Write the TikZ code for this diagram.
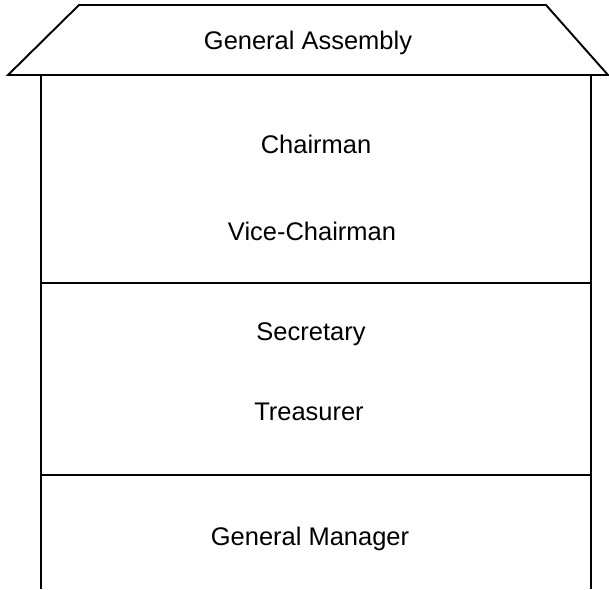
\documentclass[tikz,border=0pt]{standalone}
\usepackage{fontspec}
\setmainfont{Liberation Sans}
\usepackage{tikz}
\usetikzlibrary{calc}

\begin{document}
\begin{tikzpicture}[x=0.02cm, y=-0.02cm, line width=1.1pt,
	post/.style={anchor=base, inner sep=0pt, font=\fontsize{14.5}{17}\selectfont}]
		\useasboundingbox (0,0) rectangle (609,589);
		%Roof
		\draw [line join=miter] (79,5) -- (546,5) -- (608,75) -- (8,75) -- cycle;
		%Walls
		\draw (41,75) -- (41,589);
		\draw (591,75) -- (591,589);
		%Floors
		\draw (41,283) -- (591,283);
		\draw (41,475) -- (591,475);
		%Labels
		\node [post] (assembly) at (308,49) {General Assembly};
		\node [post] (chairman) at (316,153) {Chairman};
		\node [post] (vice) at (312,240) {Vice-Chairman};
		\node [post] (secretary) at (311,340) {Secretary};
		\node [post] (treasurer) at (309,420) {Treasurer};
		\node [post] (manager) at (310,545) {General Manager};
	\end{tikzpicture}
\end{document}
